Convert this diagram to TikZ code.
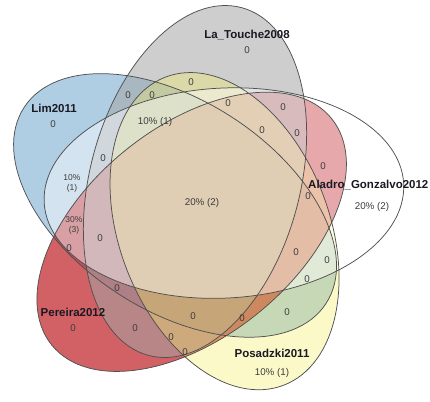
\documentclass[tikz,border=0pt]{standalone}
\usepackage{fontspec}
\setmainfont{Liberation Sans}
\definecolor{setGray}{RGB}{165,165,165}
\definecolor{setBlue}{RGB}{65,137,189}
\definecolor{setYellow}{RGB}{245,238,100}
\definecolor{setRed}{RGB}{190,30,35}
\definecolor{edgeCol}{RGB}{80,80,80}
\definecolor{countCol}{RGB}{60,60,60}
\definecolor{nameCol}{RGB}{25,25,35}
\begin{document}
\begin{tikzpicture}[x=1pt,y=1pt,
  setedge/.style={draw=edgeCol, line width=0.75pt},
  setname/.style={font=\fontsize{11.5}{12}\selectfont\bfseries, text=nameCol, inner sep=0pt},
  count/.style={font=\fontsize{9.8}{10.5}\selectfont, text=countCol, inner sep=0pt, align=center},
  smallcount/.style={count, font=\fontsize{8.5}{10}\selectfont},
]
\useasboundingbox (0,0) rectangle (430,401);
\clip (0,0) rectangle (430,401);

% centre of the five-fold arrangement and the ellipse centres
\coordinate (O) at (201.5,193.8);
\path (O) ++(104.2:26.5) coordinate (cG);               % La_Touche2008
\path (O) ++(32.2:26.5)  coordinate (cW);               % Aladro_Gonzalvo2012
\path (O) ++(-39.8:26.5) ++(-69:7.5) coordinate (cY);   % Posadzki2011
\path (O) ++(-111.8:26.5) coordinate (cR);              % Pereira2012
\path (O) ++(176.2:26.5) coordinate (cB);               % Lim2011

% fills, back to front
\fill[setBlue, fill opacity=0.42, rotate around={147:(cB)}] (cB) ellipse (180pt and 105pt);
\fill[setRed, fill opacity=0.7, rotate around={-141:(cR)}] (cR) ellipse (180pt and 105pt);
\fill[setGray, fill opacity=0.55, rotate around={75:(cG)}] (cG) ellipse (180pt and 105pt);
\fill[setYellow, fill opacity=0.35, rotate around={-69:(cY)}] (cY) ellipse (165pt and 105pt);
\fill[white, fill opacity=0.45, rotate around={3:(cW)}] (cW) ellipse (180pt and 105pt);

% outlines
\draw[setedge, rotate around={-141:(cR)}] (cR) ellipse (180pt and 105pt);
\draw[setedge, rotate around={75:(cG)}] (cG) ellipse (180pt and 105pt);
\draw[setedge, rotate around={147:(cB)}] (cB) ellipse (180pt and 105pt);
\draw[setedge, rotate around={-69:(cY)}] (cY) ellipse (165pt and 105pt);
\draw[setedge, rotate around={3:(cW)}] (cW) ellipse (180pt and 105pt);

% set names
\node[setname] (nameG) at (247,366) {La\_Touche2008};
\node[setname] (nameB) at (54,293) {Lim2011};
\node[setname, anchor=west] (nameW) at (308,216) {Aladro\_Gonzalvo2012};
\node[setname] (nameR) at (73,89) {Pereira2012};
\node[setname] (nameY) at (272,48) {Posadzki2011};

% region counts
\node[count] (r1) at (53,277) {0};
\node[count] (r2) at (247,351) {0};
\node[count] (r3) at (372,194) {20\% (2)};
\node[count] (r4) at (272,28) {10\% (1)};
\node[count] (r5) at (73,73) {0};
\node[count] (r6) at (128,306) {0};
\node[count] (r7) at (152,306) {0};
\node[count] (r8) at (191,319) {0};
\node[count] (r9) at (155,279) {10\% (1)};
\node[count] (r10) at (103,243) {0};
\node[smallcount] (r11) at (72,218) {10\%\\(1)};
\node[count] (r12) at (228,298) {0};
\node[count] (r13) at (283,294) {0};
\node[count] (r14) at (262,271) {0};
\node[count] (r15) at (297,268) {0};
\node[count] (r16) at (323,235) {0};
\node[count] (r17) at (308,205) {0};
\node[count] (r18) at (202,198) {20\% (2)};
\node[smallcount] (r19) at (74,176) {30\%\\(3)};
\node[count] (r20) at (100,163) {0};
\node[count] (r21) at (69,153) {0};
\node[count] (r22) at (117,113) {0};
\node[count] (r23) at (135,73) {0};
\node[count] (r24) at (193,85) {0};
\node[count] (r25) at (171,64) {0};
\node[count] (r26) at (185,49) {0};
\node[count] (r27) at (242,83) {0};
\node[count] (r28) at (296,149) {0};
\node[count] (r29) at (327,141) {0};
\node[count] (r30) at (307,122) {0};
\node[count] (r31) at (287,89) {0};
\end{tikzpicture}
\end{document}
